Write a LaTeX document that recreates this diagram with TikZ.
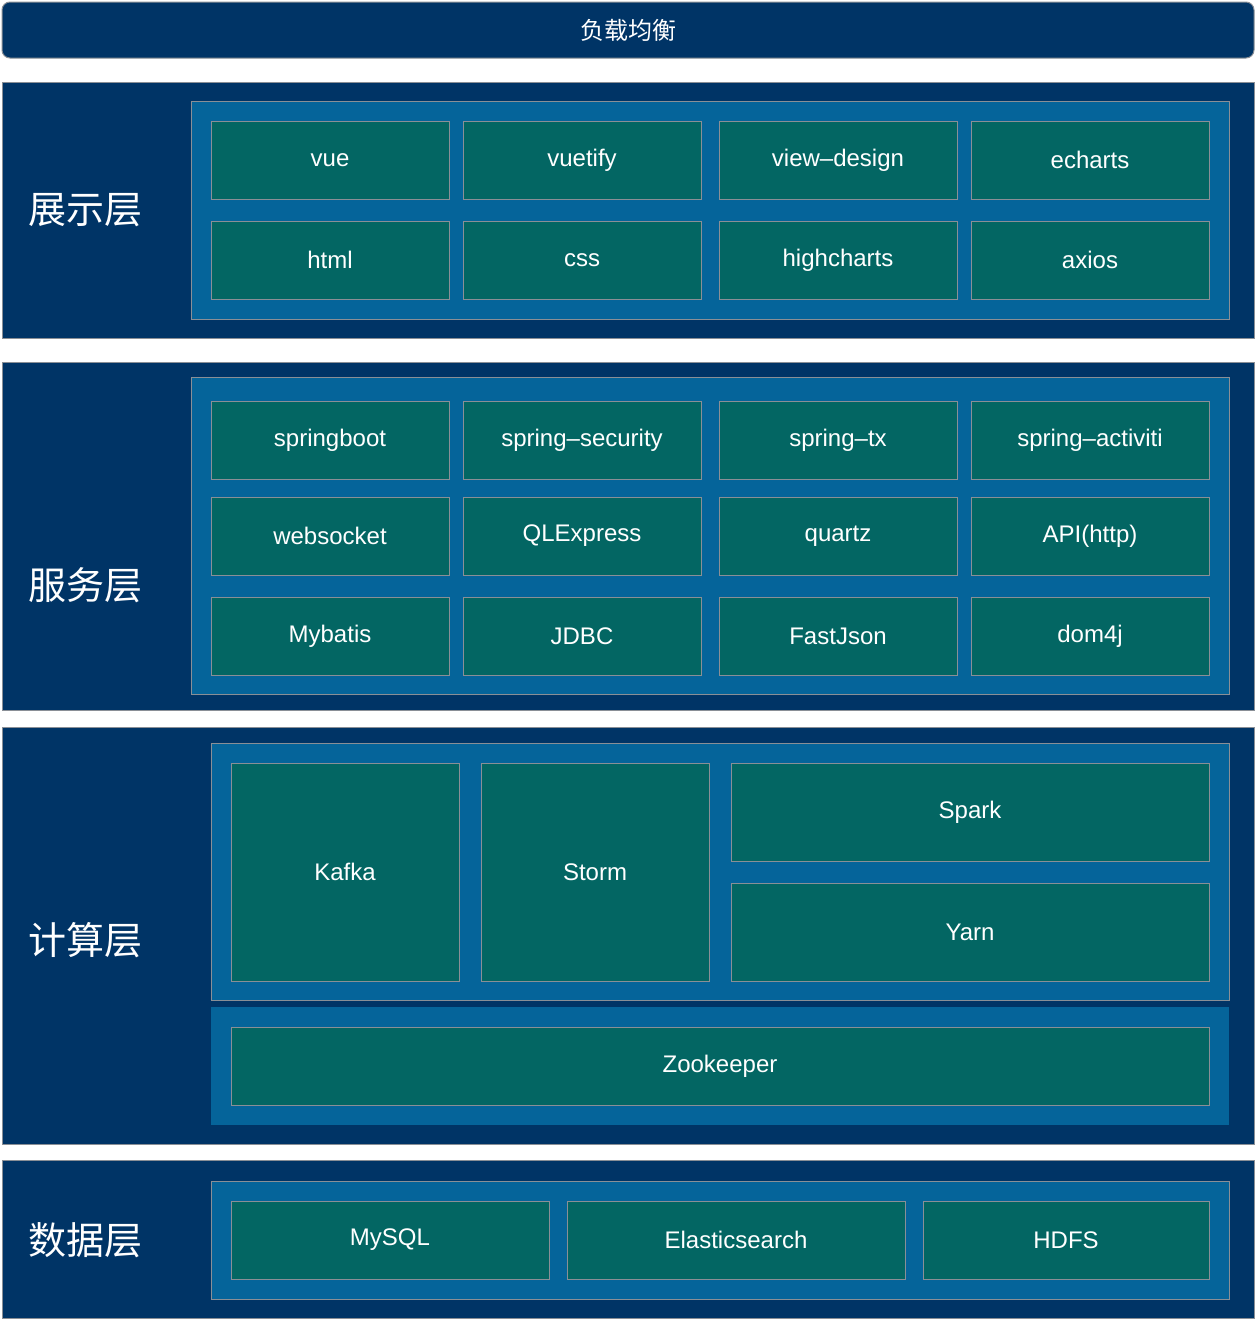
\documentclass[tikz,border=0pt]{standalone}
\usepackage{fontspec}
\setmainfont{Liberation Sans}
\newfontfamily\cjk{Noto Sans CJK SC}
\definecolor{navy}{HTML}{003466}
\definecolor{mblue}{HTML}{05649A}
\definecolor{teal}{HTML}{036663}
\definecolor{bgray}{HTML}{8A8F96}
\tikzset{
 layer/.style={fill=navy,draw=bgray,line width=1pt},
 inner/.style={fill=mblue,draw=bgray,line width=1pt},
 tbox/.style={fill=teal,draw=bgray,line width=1pt,text=white,font=\fontsize{24}{28}\selectfont},
 lbl/.style={text=white,font=\cjk\fontsize{38}{44}\selectfont}
}
\newcommand\bx[6][tbox]{\node[#1,minimum width=#4-#2,minimum height=#5-#3,inner sep=0pt] (n#2x#3) at ({(#2+#4)/2},{(#3+#5)/2}) {#6};}
\begin{document}
\begin{tikzpicture}[x=1pt,y=-1pt]
\useasboundingbox (0,0) rectangle (1256,1320);
\fill[white] (0,0) rectangle (1256,1320);
\node[fill=navy,draw=bgray,line width=1pt,rounded corners=8pt,minimum width=1252,minimum height=56,inner sep=0pt,text=white,font=\cjk\fontsize{24}{28}\selectfont] (lb) at (628,30) {负载均衡};
% layer 1
\draw[layer] (2,82) rectangle (1254,338);
\node[lbl] (l1) at (85,210) {展示层};
\draw[inner] (191,101) rectangle (1229,319);
\bx{211}{121}{449}{199}{vue}
\bx{463}{121}{701}{199}{vuetify}
\bx{719}{121}{957}{199}{view{\char"2013}design}
\bx{971}{121}{1209}{199}{echarts}
\bx{211}{221}{449}{299}{html}
\bx{463}{221}{701}{299}{css}
\bx{719}{221}{957}{299}{highcharts}
\bx{971}{221}{1209}{299}{axios}
% layer 2
\draw[layer] (2,362) rectangle (1254,710);
\node[lbl] (l2) at (85,585) {服务层};
\draw[inner] (191,377) rectangle (1229,694);
\bx{211}{401}{449}{479}{springboot}
\bx{463}{401}{701}{479}{spring{\char"2013}security}
\bx{719}{401}{957}{479}{spring{\char"2013}tx}
\bx{971}{401}{1209}{479}{spring{\char"2013}activiti}
\bx{211}{497}{449}{575}{websocket}
\bx{463}{497}{701}{575}{QLExpress}
\bx{719}{497}{957}{575}{quartz}
\bx{971}{497}{1209}{575}{API(http)}
\bx{211}{597}{449}{675}{Mybatis}
\bx{463}{597}{701}{675}{JDBC}
\bx{719}{597}{957}{675}{FastJson}
\bx{971}{597}{1209}{675}{dom4j}
% layer 3
\draw[layer] (2,727) rectangle (1254,1144);
\node[lbl] (l3) at (85,940) {计算层};
\draw[inner] (211,743) rectangle (1229,1000);
\bx{231}{763}{459}{981}{Kafka}
\bx{481}{763}{709}{981}{Storm}
\bx{731}{763}{1209}{861}{Spark}
\bx{731}{883}{1209}{981}{Yarn}
\fill[mblue] (211,1007) rectangle (1229,1125);
\bx{231}{1027}{1209}{1105}{Zookeeper}
% layer 4
\draw[layer] (2,1160) rectangle (1254,1318);
\node[lbl] (l4) at (85,1240) {数据层};
\draw[inner] (211,1181) rectangle (1229,1299);
\bx{231}{1201}{549}{1279}{MySQL}
\bx{567}{1201}{905}{1279}{Elasticsearch}
\bx{923}{1201}{1209}{1279}{HDFS}
\end{tikzpicture}
\end{document}
